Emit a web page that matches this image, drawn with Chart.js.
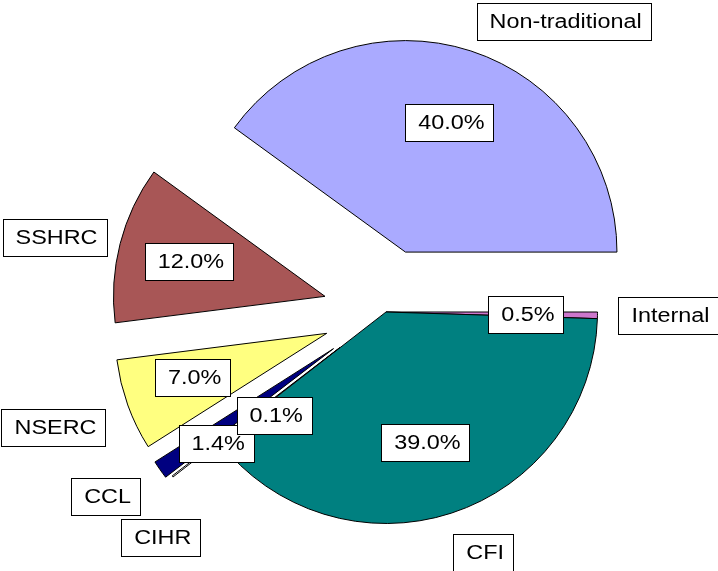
<!DOCTYPE html>
<html><head><meta charset="utf-8">
<script src="https://cdn.jsdelivr.net/npm/chart.js@4.4.0/dist/chart.umd.min.js"></script>
<style>html,body{margin:0;padding:0;background:#fff;overflow:hidden}#wrap{width:718px;height:571px}</style>
</head><body><div id="wrap"><canvas id="c" width="718" height="571"></canvas></div>
<script>
// ---- data ----
const categories = ['Non-traditional', 'Internal', 'CFI', 'CIHR', 'CCL', 'NSERC', 'SSHRC'];
const values = [40.0, 0.5, 39.0, 0.1, 1.4, 7.0, 12.0];
const pctLabels = values.map(v => v.toFixed(1) + '%');

// ---- style ----
const colors = ['#AAAAFF', '#CC77CC', '#008080', '#FFFFFF', '#000080', '#FFFF80', '#A85656'];
const explode = [63, 0, 0, 58, 64, 63, 63];            // px pulled out along each slice's mid-angle
const pctPos = [[137, -71.3], [140, 1.0], [136.3, 73.2], [94.8, 134.1], [150.7, 141.2], [141.4, 161.6], [140.4, 194.4]]; // [dist, deg] from slice centre
const catPos = [[280, -55.6], [282.5, 0.8], [259.3, 68.0], [261, 133.4], [271.5, 147.1], [289, 161.0], [276.7, 192.2]];

const explodePlugin = {
  id: 'explode',
  afterDatasetsUpdate(chart) {
    const meta = chart.getDatasetMeta(0);
    meta.data.forEach((arc, i) => {
      const mid = (arc.startAngle + arc.endAngle) / 2;
      arc.x += Math.cos(mid) * explode[i];
      arc.y += Math.sin(mid) * explode[i];
    });
  }
};

function drawBox(ctx, text, cx, cy) {
  const sx = 1.17;
  const w = Math.round(ctx.measureText(text).width * sx + 22);
  const h = 37;
  const x = Math.round(cx - w / 2) + 0.5, y = Math.round(cy - h / 2) + 0.5;
  ctx.fillStyle = '#fff';
  ctx.fillRect(x, y, w, h);
  ctx.strokeStyle = '#000';
  ctx.lineWidth = 1;
  ctx.strokeRect(x, y, w, h);
  ctx.save();
  ctx.translate(cx + 2, cy + 1);
  ctx.scale(sx, 1);
  ctx.fillStyle = '#000';
  ctx.textAlign = 'center';
  ctx.textBaseline = 'middle';
  ctx.fillText(text, 0, 0);
  ctx.restore();
}

const labelPlugin = {
  id: 'boxLabels',
  afterDraw(chart) {
    const ctx = chart.ctx;
    const meta = chart.getDatasetMeta(0);
    ctx.save();
    ctx.font = '20px "Liberation Sans", Arial, sans-serif';
    const rad = d => d * Math.PI / 180;
    for (let i = meta.data.length - 1; i >= 0; i--) {
      const arc = meta.data[i];
      const [d, a] = pctPos[i];
      drawBox(ctx, pctLabels[i], arc.x + Math.cos(rad(a)) * d, arc.y + Math.sin(rad(a)) * d);
    }
    for (let i = meta.data.length - 1; i >= 0; i--) {
      const arc = meta.data[i];
      const [d, a] = catPos[i];
      drawBox(ctx, categories[i], arc.x + Math.cos(rad(a)) * d, arc.y + Math.sin(rad(a)) * d);
    }
    ctx.restore();
  }
};

new Chart(document.getElementById('c'), {
  type: 'pie',
  data: {
    labels: categories,
    datasets: [{
      data: values,
      backgroundColor: colors,
      borderColor: '#000',
      borderWidth: 1,
      hoverOffset: 0
    }]
  },
  options: {
    responsive: false,
    devicePixelRatio: 1,
    animation: false,
    rotation: -54,
    radius: 211.5,
    layout: { padding: { top: 53, bottom: 0, left: 54, right: 0 } },
    plugins: { legend: { display: false }, tooltip: { enabled: false } },
    events: []
  },
  plugins: [explodePlugin, labelPlugin]
});
</script>
</body></html>
